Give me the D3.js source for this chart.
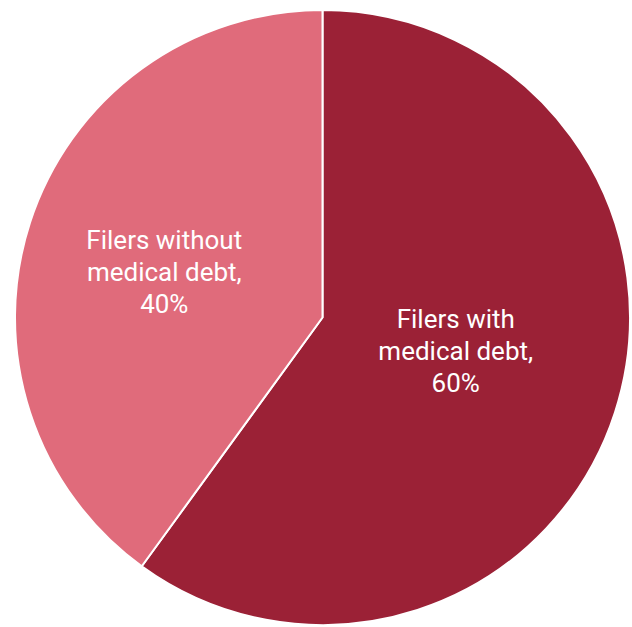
<!DOCTYPE html>
<html>
<head>
<meta charset="utf-8">
<script src="https://cdn.jsdelivr.net/npm/d3@7"></script>
<style>
  body { margin: 0; background: #fff; }
  text { font-family: Roboto, sans-serif; }
</style>
</head>
<body>
<script>
let width = 632;
let height = 627;

// slices, clockwise from 12 o'clock
let categories = ['Filers with medical debt', 'Filers without medical debt'];
let values = [60, 40];
let labelLines = [
    ['Filers with', 'medical debt,', '60%'],
    ['Filers without', 'medical debt,', '40%']
];
let colors = ['#9b2136', '#e06b7b'];

let cx = 322.5;
let cy = 317.5;
let radius = 307.5;

// label offset from the slice centroid, px
let labelNudge = [[-13, -14], [-12, 2]];
let lineHeight = 32;

let data = categories.map((c, i) => ({name: c, value: values[i], lines: labelLines[i], i: i}));

let svg = d3.select('body')
    .append('svg')
    .attr('width', width)
    .attr('height', height)
  .append('g')
    .attr('transform', `translate(${cx},${cy})`);

let pie = d3.pie().value(d => d.value).sort(null);
let arc = d3.arc().innerRadius(0).outerRadius(radius);
let labelArc = d3.arc().innerRadius(radius * 0.5).outerRadius(radius * 0.5);

let arcs = pie(data);

svg.selectAll('path')
    .data(arcs)
  .enter().append('path')
    .attr('d', arc)
    .attr('fill', d => colors[d.data.i])
    .attr('stroke', '#fff')
    .attr('stroke-width', 2)
    .attr('stroke-linejoin', 'round');

let labels = svg.selectAll('.label')
    .data(arcs)
  .enter().append('text')
    .attr('class', 'label')
    .attr('text-anchor', 'middle')
    .attr('fill', '#fff')
    .attr('font-size', 26)
    .attr('transform', d => {
        let c = labelArc.centroid(d);
        let n = labelNudge[d.data.i];
        return `translate(${c[0] + n[0]},${c[1] + n[1]})`;
    });

labels.selectAll('tspan')
    .data(d => d.data.lines.map((t, k, a) => ({t: t, k: k, n: a.length})))
  .enter().append('tspan')
    .attr('x', 0)
    .attr('y', d => (d.k - (d.n - 1) / 2) * lineHeight)
    .attr('dy', '0.35em')
    .text(d => d.t);
</script>
</body>
</html>
